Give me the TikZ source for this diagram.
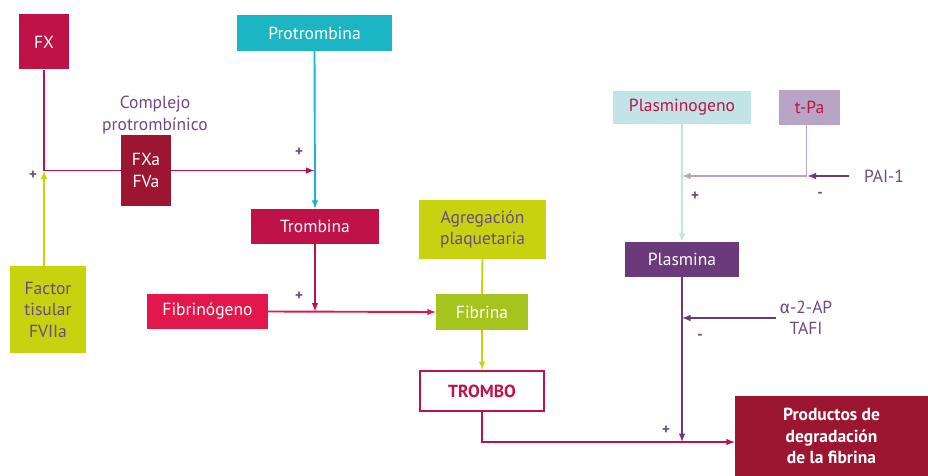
\documentclass[tikz,border=0pt]{standalone}
\usepackage{fontspec}
\setmainfont{PT Sans}
\newfontfamily\griega{Fira Sans}
\usetikzlibrary{positioning}
\definecolor{carmin}{HTML}{BF1249}
\definecolor{rosa}{HTML}{E3174C}
\definecolor{granate}{HTML}{9C1631}
\definecolor{turquesa}{HTML}{1BB5C4}
\definecolor{lima}{HTML}{C8D20E}
\definecolor{verde}{HTML}{A6C41E}
\definecolor{celeste}{HTML}{C3E4E6}
\definecolor{lila}{HTML}{B8A4C4}
\definecolor{morado}{HTML}{6A3A7A}
\definecolor{textomorado}{HTML}{6C4A85}
\begin{document}
\begin{tikzpicture}[>=latex, x=1pt, y=-1pt,
    caja/.style={rectangle, inner sep=0pt, align=center, text=white,
        font=\fontsize{17.5}{21.5}\selectfont},
    etiqueta/.style={align=center, text=textomorado,
        font=\fontsize{17.5}{21.5}\selectfont},
    signo/.style={text=textomorado, font=\fontsize{15}{15}\selectfont\bfseries},
    linea/.style={line width=1.9pt}]
    \useasboundingbox (0,0) rectangle (928,476);

    % 1. Cajas de la coagulacion
    \node[caja, fill=carmin, minimum width=50pt, minimum height=55pt] (fx) at (44,42) {FX};
    \node[caja, fill=turquesa, minimum width=155pt, minimum height=36pt] (proto) at (314.5,33) {Protrombina};
    \node[etiqueta] (complejo) at (155,115) {Complejo\\protrombínico};
    \node[caja, fill=granate, minimum width=50pt, minimum height=71pt] (fxa) at (146,170.5) {FXa\\FVa};
    \node[caja, fill=lima, text=textomorado, minimum width=76pt, minimum height=87pt] (factor) at (48,309.5) {Factor\\tisular\\FVIIa};
    \node[caja, fill=carmin, minimum width=128pt, minimum height=35pt] (trombina) at (315,226.5) {Trombina};
    \node[caja, fill=rosa, minimum width=121pt, minimum height=35pt] (fibrinogeno) at (207.5,311.5) {Fibrinógeno};
    \node[caja, fill=lima, text=textomorado, minimum width=127pt, minimum height=59pt] (agregacion) at (482.5,229.5) {Agregación\\plaquetaria};
    \node[caja, fill=verde, minimum width=92pt, minimum height=36pt] (fibrina) at (482,312) {Fibrina};
    \node[caja, fill=white, draw=carmin, line width=2pt, text=carmin, minimum width=124pt, minimum height=40pt,
        font=\fontsize{17.5}{21.5}\selectfont\bfseries] (trombo) at (482,391) {TROMBO};

    % 2. Cajas de la fibrinolisis
    \node[caja, fill=celeste, text=carmin, minimum width=138pt, minimum height=33pt] (plasminogeno) at (682,107.5) {Plasminogeno};
    \node[caja, fill=lila, text=carmin, minimum width=61pt, minimum height=35pt] (tpa) at (809.5,107.5) {t-Pa};
    \node[etiqueta] (pai) at (884,176) {PAI-1};
    \node[caja, fill=morado, minimum width=114pt, minimum height=35pt] (plasmina) at (682,259.5) {Plasmina};
    \node[etiqueta] (alfa) at (806,318) {{\griega α}-2-AP\\TAFI};
    \node[caja, fill=granate, minimum width=193pt, minimum height=80pt,
        font=\fontsize{17.5}{21.5}\selectfont\bfseries] (productos) at (831.5,436) {Productos de\\degradación\\de la fibrina};
    \coordinate (cruce) at (682,442);

    % 3. Conexiones
    \draw[linea, carmin] (fx.south) |- (fxa.west);
    \draw[linea, carmin, ->] (fxa.east) -- (fxa.east -| proto.south);
    \draw[linea, lima, ->] (factor.north -| fx.south) -- (fx.south |- fxa.west);
    \draw[linea, turquesa, ->] (proto.south) -- (trombina.north);
    \draw[linea, carmin, ->] (trombina.south) -- (trombina.south |- fibrinogeno.east);
    \draw[linea, rosa, ->] (fibrinogeno.east) -- (fibrina.west);
    \draw[linea, lima] (agregacion.south) -- (fibrina.north);
    \draw[linea, lima, ->] (fibrina.south) -- (trombo.north);
    \draw[linea, carmin, ->] (trombo.south) |- (productos.west |- cruce);
    \draw[linea, celeste, ->] (plasminogeno.south) -- (plasmina.north);
    \draw[linea, lila, ->] ([xshift=-3pt]tpa.south) |- (plasminogeno.south |- pai.west);
    \draw[linea, morado, ->, shorten <=12pt] (pai.west) -- ([xshift=-2pt]tpa.south |- pai.west);
    \draw[linea, morado, ->] (plasmina.south) -- (cruce);
    \draw[linea, morado, ->] (alfa.west) -- (plasmina.south |- alfa.west);

    % 4. Signos
    \node[signo] (s1) at (33,175) {+};
    \node[signo] (s2) at (299,152) {+};
    \node[signo] (s3) at (299,296) {+};
    \node[signo] (s4) at (695,196) {+};
    \node[signo] (s5) at (820,195) {-};
    \node[signo] (s6) at (700,337) {-};
    \node[signo] (s7) at (666,430) {+};
\end{tikzpicture}
\end{document}
